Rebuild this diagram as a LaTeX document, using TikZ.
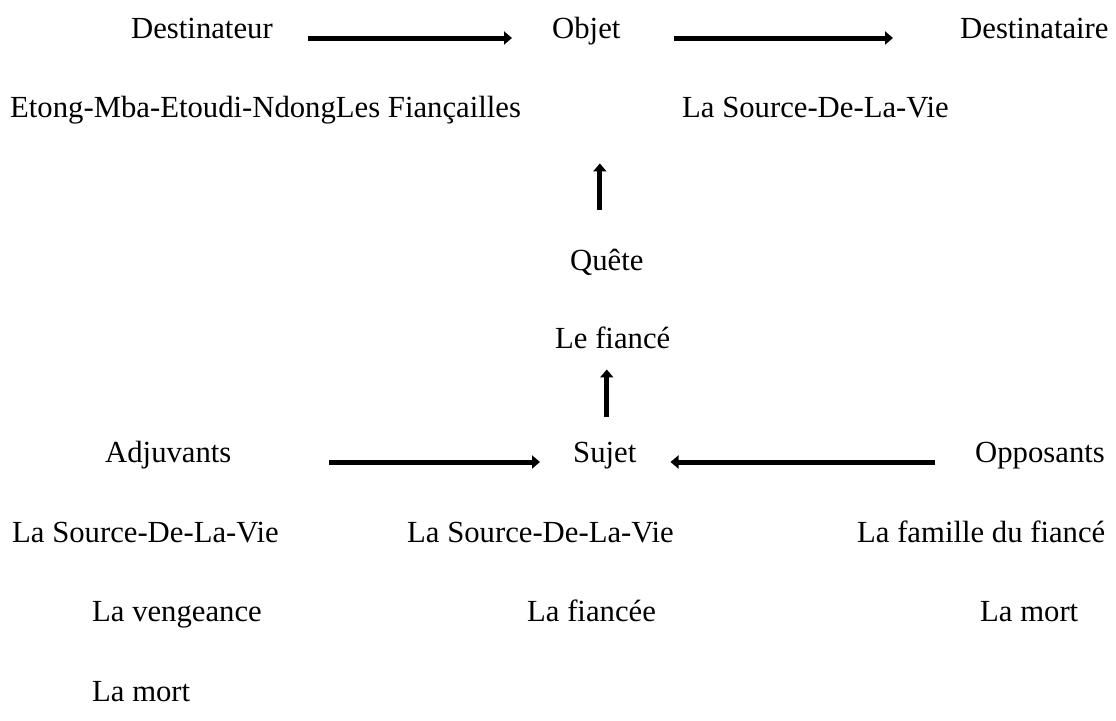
\documentclass[tikz,border=0pt]{standalone}
\usepackage{fontspec}
\setmainfont{Liberation Serif}
\usetikzlibrary{arrows.meta}

\begin{document}
\begin{tikzpicture}[x=1pt, y=-1pt, >={Triangle[width=13pt,length=8pt]},
  lbl/.style={anchor=base west, inner sep=0pt, font=\fontsize{30.7}{36}\selectfont},
  fleche/.style={->, line width=5pt}]
\useasboundingbox (0,0) rectangle (1116,720);
% actants du haut
\draw (131, 38)node[lbl](destinateur){Destinateur};
\draw (552, 38)node[lbl](objet){Objet};
\draw (960, 38)node[lbl](destinataire){Destinataire};
\draw (10, 117)node[lbl](etong){Etong-Mba-Etoudi-NdongLes Fiançailles};
\draw (682, 117)node[lbl](source1){La Source-De-La-Vie};
% quete
\draw (570, 270)node[lbl](quete){Quête};
\draw (555, 348)node[lbl](fiance){Le fiancé};
% actants du bas
\draw (105, 462)node[lbl](adjuvants){Adjuvants};
\draw (573, 462)node[lbl](sujet){Sujet};
\draw (975, 462)node[lbl](opposants){Opposants};
\draw (12, 542)node[lbl](source2){La Source-De-La-Vie};
\draw (407, 542)node[lbl](source3){La Source-De-La-Vie};
\draw (857, 542)node[lbl](famille){La famille du fiancé};
\draw (92, 621)node[lbl](vengeance){La vengeance};
\draw (527, 621)node[lbl](fiancee){La fiancée};
\draw (980, 621)node[lbl](mort1){La mort};
\draw (92, 701)node[lbl](mort2){La mort};
% fleches
\draw[fleche, shorten <=35pt, shorten >=40pt] (destinateur.base east) -- (objet.base west);
\draw[fleche, shorten <=53pt, shorten >=67pt] (objet.base east) -- (destinataire.base west);
\draw[fleche] ([xshift=-7pt, yshift=38pt]quete.north) -- ++(0,-47);
\draw[fleche] ([xshift=2pt, yshift=24pt]sujet.north) -- ++(0,-48);
\draw[fleche, shorten <=97pt, shorten >=33pt] (adjuvants.base east) -- (sujet.base west);
\draw[fleche, shorten <=40pt, shorten >=34pt] (opposants.base west) -- (sujet.base east);
\end{tikzpicture}
\end{document}
